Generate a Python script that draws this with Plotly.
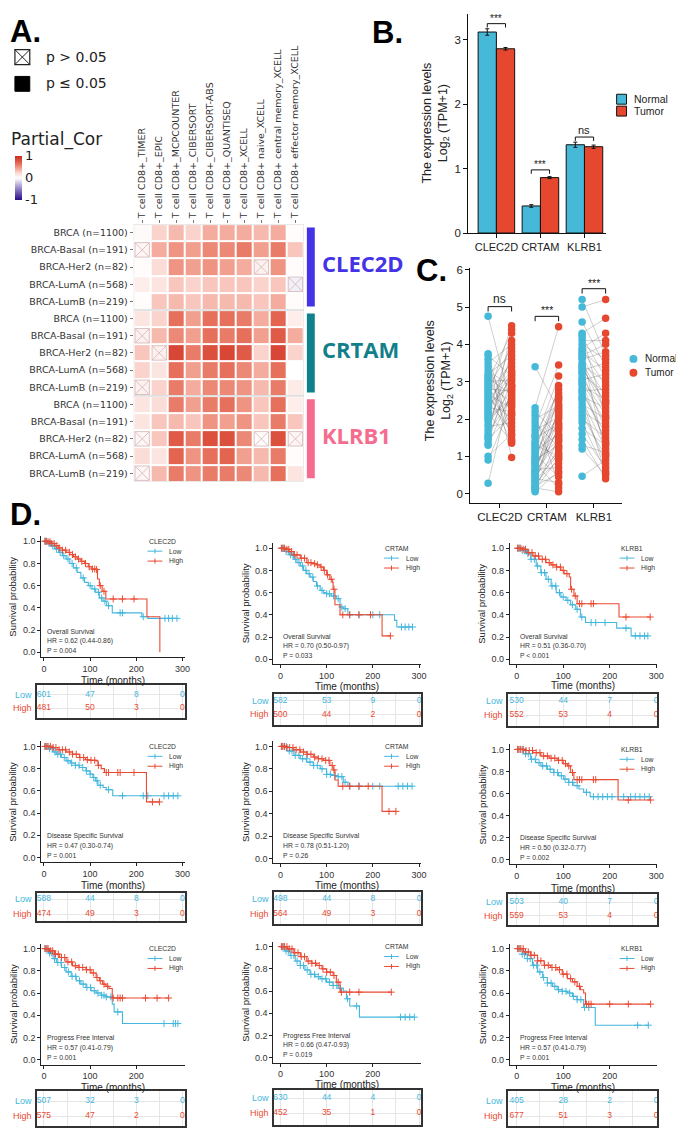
import plotly.graph_objects as go

# ===================== DATA =====================
# ---- Panel A: partial correlation heatmap ----
hm_cols = ["T cell CD8+_TIMER", "T cell CD8+_EPIC", "T cell CD8+_MCPCOUNTER",
           "T cell CD8+_CIBERSORT", "T cell CD8+_CIBERSORT-ABS", "T cell CD8+_QUANTISEQ",
           "T cell CD8+_XCELL", "T cell CD8+ naive_XCELL",
           "T cell CD8+ central memory_XCELL", "T cell CD8+ effector memory_XCELL"]
hm_rows = ["BRCA (n=1100)", "BRCA-Basal (n=191)", "BRCA-Her2 (n=82)",
           "BRCA-LumA (n=568)", "BRCA-LumB (n=219)"]
hm_genes = ["CLEC2D", "CRTAM", "KLRB1"]
hm_clec2d = [
    [0.03, 0.25, 0.35, 0.25, 0.40, 0.40, 0.40, 0.35, 0.40, 0.02],
    [0.05, 0.40, 0.50, 0.45, 0.55, 0.55, 0.60, 0.45, 0.60, 0.30],
    [0.02, 0.20, 0.50, 0.45, 0.50, 0.45, 0.40, 0.08, 0.50, 0.02],
    [0.10, 0.15, 0.30, 0.25, 0.30, 0.30, 0.30, 0.25, 0.30, -0.06],
    [0.02, 0.30, 0.35, 0.30, 0.35, 0.35, 0.35, 0.30, 0.40, 0.02]]
hm_crtam = [
    [0.15, 0.25, 0.65, 0.45, 0.65, 0.65, 0.60, 0.40, 0.70, 0.10],
    [0.08, 0.35, 0.55, 0.45, 0.65, 0.60, 0.65, 0.45, 0.75, 0.40],
    [0.30, 0.08, 0.85, 0.60, 0.80, 0.85, 0.75, 0.25, 0.85, 0.25],
    [0.25, 0.15, 0.65, 0.45, 0.60, 0.65, 0.55, 0.40, 0.65, 0.00],
    [0.08, 0.25, 0.60, 0.40, 0.55, 0.55, 0.50, 0.35, 0.60, 0.12]]
hm_klrb1 = [
    [0.15, 0.20, 0.60, 0.45, 0.60, 0.65, 0.50, 0.30, 0.65, 0.10],
    [0.15, 0.30, 0.35, 0.30, 0.50, 0.45, 0.50, 0.30, 0.60, 0.30],
    [0.05, 0.30, 0.75, 0.60, 0.80, 0.80, 0.55, 0.02, 0.80, 0.05],
    [0.20, 0.15, 0.70, 0.50, 0.65, 0.70, 0.45, 0.35, 0.60, 0.02],
    [0.05, 0.35, 0.60, 0.50, 0.60, 0.60, 0.55, 0.35, 0.65, 0.15]]
# (row, column) cells with p > 0.05
hm_ns_cells = [(1, 0), (2, 7), (3, 9), (6, 0), (7, 1), (9, 0), (12, 0), (12, 7), (12, 9), (14, 0)]

# ---- Panel B: bar chart ----
b_genes = ["CLEC2D", "CRTAM", "KLRB1"]
b_normal = [3.12, 0.42, 1.37]
b_normal_err = [0.05, 0.02, 0.04]
b_tumor = [2.86, 0.86, 1.34]
b_tumor_err = [0.02, 0.015, 0.025]
b_sig = ["***", "***", "ns"]
b_sig_y = [3.25, 0.98, 1.49]

# ---- Panel C: paired points ----
c_genes = ["CLEC2D", "CRTAM", "KLRB1"]
c_clec2d_normal = [0.28, 0.9, 1.0, 1.3, 1.35, 1.45, 1.55, 1.6, 1.7, 1.8, 1.85, 1.95, 2.0, 2.1, 2.15,
                   2.2, 2.3, 2.35, 2.4, 2.45, 2.5, 2.55, 2.6, 2.65, 2.7, 2.75, 2.8, 2.85, 2.9, 2.95,
                   3.0, 3.05, 3.1, 3.15, 3.2, 3.3, 3.4, 3.5, 3.6, 3.7, 3.75, 2.25, 2.05, 1.5, 4.75]
c_clec2d_tumor = [2.9, 2.4, 1.6, 2.7, 3.4, 2.1, 3.0, 2.6, 3.8, 1.9, 2.8, 3.2, 2.5, 4.1, 1.4,
                  3.1, 2.2, 3.6, 2.9, 1.7, 3.3, 2.0, 4.5, 2.3, 3.5, 1.35, 2.75, 3.9, 2.45, 1.55,
                  3.05, 4.3, 2.65, 1.8, 3.7, 2.85, 2.15, 4.0, 0.97, 3.15, 1.45, 3.25, 2.55, 4.4, 2.35]
c_crtam_normal = [0.05, 0.1, 0.15, 0.2, 0.25, 0.3, 0.35, 0.4, 0.45, 0.5, 0.55, 0.6, 0.65, 0.7, 0.75,
                  0.8, 0.85, 0.9, 0.95, 1.0, 1.05, 1.1, 1.15, 1.2, 1.3, 1.35, 1.4, 1.5, 1.55, 1.6,
                  1.7, 1.8, 1.9, 2.0, 2.1, 2.2, 2.3, 0.12, 0.35, 0.6, 0.85, 1.25, 0.5, 0.2, 3.4]
c_crtam_tumor = [0.6, 1.5, 0.05, 1.2, 2.3, 0.9, 1.8, 0.3, 2.0, 1.1, 2.6, 1.4, 0.7, 2.2, 1.7,
                 0.15, 2.9, 1.3, 2.5, 1.9, 0.45, 2.1, 1.6, 2.8, 1.0, 2.4, 3.15, 1.85, 0.8, 2.7,
                 2.05, 3.45, 1.25, 2.35, 0.25, 1.55, 4.47, 0.95, 1.05, 2.15, 1.45, 2.55, 1.75, 0.55, 2.25]
c_klrb1_normal = [0.47, 1.2, 1.3, 1.45, 1.6, 1.75, 1.9, 2.0, 2.1, 2.2, 2.3, 2.4, 2.5, 2.6, 2.7,
                  2.75, 2.8, 2.9, 3.0, 3.05, 3.1, 3.2, 3.25, 3.3, 3.4, 3.45, 3.5, 3.6, 3.65, 3.7,
                  3.8, 3.85, 3.9, 4.0, 4.1, 4.2, 4.3, 4.6, 5.0, 5.2, 2.55, 3.35, 3.75, 2.95, 4.25]
c_klrb1_tumor = [0.9, 0.5, 1.1, 0.4, 0.7, 1.3, 0.6, 1.5, 1.0, 1.8, 0.8, 2.0, 1.2, 2.3, 1.6,
                 2.8, 1.4, 2.5, 1.9, 3.2, 2.1, 2.7, 1.7, 3.5, 2.2, 3.0, 2.4, 3.8, 2.6, 4.0,
                 3.3, 2.9, 4.3, 3.6, 4.1, 3.1, 4.7, 3.4, 5.2, 3.7, 0.55, 2.45, 1.05, 1.35, 2.05]
c_sig = ["ns", "***", "***"]
c_sig_y = [5.01, 4.75, 5.49]

# ---- Panel D: Kaplan-Meier curves (time in months, survival) and censor times ----
risk_times = [0, 100, 200, 300]

os_clec2d_low_t = [0, 8, 16, 24, 32, 40, 48, 56, 64, 72, 80, 88, 96, 104, 112, 120, 128, 136, 148, 212, 225]
os_clec2d_low_s = [1.0, 0.98, 0.96, 0.93, 0.90, 0.87, 0.84, 0.80, 0.76, 0.72, 0.67, 0.63, 0.60, 0.57, 0.54, 0.49, 0.46, 0.42, 0.355, 0.32, 0.305]
os_clec2d_low_c = [3, 6, 11, 14, 19, 23, 27, 35, 43, 52, 61, 70, 85, 100, 110, 118, 125, 132, 140, 165, 170, 215, 262, 270, 278, 288]
os_clec2d_high_t = [0, 8, 16, 24, 32, 40, 48, 56, 64, 72, 80, 88, 96, 104, 112, 116, 120, 126, 134, 223, 251]
os_clec2d_high_s = [1.0, 0.995, 0.98, 0.96, 0.94, 0.92, 0.90, 0.88, 0.86, 0.84, 0.82, 0.80, 0.77, 0.75, 0.745, 0.66, 0.60, 0.55, 0.48, 0.32, 0.0]
os_clec2d_high_c = [2, 5, 9, 13, 17, 22, 28, 33, 40, 47, 55, 62, 68, 75, 82, 90, 98, 105, 110, 114, 122, 130, 150, 170, 195]
os_clec2d_risk_low = [601, 47, 8, 0]
os_clec2d_risk_high = [481, 50, 3, 0]

os_crtam_low_t = [0, 10, 20, 29, 36, 43, 50, 57, 64, 71, 78, 86, 93, 100, 110, 121, 129, 136, 146, 247, 252]
os_crtam_low_s = [1.0, 0.97, 0.94, 0.90, 0.87, 0.84, 0.80, 0.77, 0.74, 0.70, 0.66, 0.62, 0.60, 0.59, 0.57, 0.545, 0.47, 0.455, 0.40, 0.35, 0.29]
os_crtam_low_c = [3, 7, 12, 17, 22, 27, 33, 40, 48, 55, 62, 70, 80, 90, 100, 106, 115, 125, 133, 140, 150, 170, 200, 215, 262, 270, 278, 286]
os_crtam_high_t = [0, 10, 20, 29, 43, 57, 68, 79, 86, 93, 100, 107, 113, 114, 118, 129, 220]
os_crtam_high_s = [1.0, 0.99, 0.97, 0.94, 0.91, 0.87, 0.86, 0.85, 0.83, 0.80, 0.76, 0.72, 0.69, 0.63, 0.49, 0.40, 0.21]
os_crtam_high_c = [2, 5, 9, 14, 18, 24, 30, 36, 45, 52, 60, 66, 74, 80, 88, 95, 102, 110, 116, 135, 150, 170, 195, 238]
os_crtam_risk_low = [582, 53, 9, 0]
os_crtam_risk_high = [500, 44, 2, 0]

os_klrb1_low_t = [0, 10, 21, 30, 42, 52, 63, 74, 85, 95, 106, 116, 127, 137, 148, 215, 246]
os_klrb1_low_s = [1.0, 0.98, 0.95, 0.90, 0.84, 0.78, 0.72, 0.66, 0.60, 0.56, 0.53, 0.49, 0.45, 0.38, 0.33, 0.28, 0.21]
os_klrb1_low_c = [3, 7, 12, 17, 24, 31, 38, 45, 53, 60, 68, 76, 84, 92, 100, 110, 120, 130, 140, 160, 170, 190, 235, 255, 265, 275, 282]
os_klrb1_high_t = [0, 12, 24, 35, 48, 63, 74, 85, 95, 102, 113, 116, 123, 130, 220]
os_klrb1_high_s = [1.0, 0.99, 0.96, 0.93, 0.90, 0.87, 0.85, 0.83, 0.80, 0.77, 0.74, 0.63, 0.57, 0.50, 0.38]
os_klrb1_high_c = [2, 5, 9, 14, 19, 26, 33, 40, 47, 55, 62, 70, 78, 86, 94, 100, 108, 118, 126, 135, 140, 160, 165, 235, 287]
os_klrb1_risk_low = [530, 44, 7, 0]
os_klrb1_risk_high = [552, 53, 4, 0]

dss_clec2d_low_t = [0, 10, 20, 27, 38, 48, 58, 68, 77, 91, 100, 106, 112, 117, 128, 135, 149]
dss_clec2d_low_s = [1.0, 0.98, 0.95, 0.93, 0.90, 0.87, 0.85, 0.83, 0.81, 0.78, 0.75, 0.72, 0.69, 0.65, 0.63, 0.61, 0.555]
dss_clec2d_low_c = [3, 7, 12, 18, 24, 30, 36, 44, 52, 60, 68, 76, 84, 92, 100, 108, 115, 122, 140, 170, 215, 225, 260, 270, 280, 290]
dss_clec2d_high_t = [0, 15, 30, 48, 62, 77, 90, 99, 113, 117, 124, 131, 222]
dss_clec2d_high_s = [1.0, 0.99, 0.97, 0.95, 0.93, 0.90, 0.88, 0.875, 0.87, 0.83, 0.80, 0.765, 0.50]
dss_clec2d_high_c = [2, 5, 9, 14, 20, 26, 33, 40, 47, 55, 62, 70, 78, 86, 94, 102, 110, 118, 135, 140, 160, 165, 195, 235, 250]
dss_clec2d_risk_low = [588, 44, 8, 0]
dss_clec2d_risk_high = [474, 49, 3, 0]

dss_crtam_low_t = [0, 14, 29, 43, 57, 71, 86, 100, 110, 121, 136, 146]
dss_crtam_low_s = [1.0, 0.96, 0.92, 0.89, 0.86, 0.83, 0.80, 0.75, 0.74, 0.73, 0.68, 0.645]
dss_crtam_low_c = [3, 8, 13, 19, 25, 32, 40, 48, 56, 64, 72, 80, 90, 100, 108, 118, 125, 133, 140, 150, 170, 200, 215, 255, 265, 275, 285]
dss_crtam_high_t = [0, 14, 29, 43, 57, 71, 82, 93, 107, 114, 118, 125, 220]
dss_crtam_high_s = [1.0, 0.99, 0.97, 0.95, 0.93, 0.905, 0.89, 0.875, 0.83, 0.79, 0.70, 0.645, 0.42]
dss_crtam_high_c = [2, 5, 9, 14, 20, 27, 34, 42, 50, 58, 66, 74, 82, 90, 98, 105, 112, 116, 135, 150, 170, 190, 235, 250]
dss_crtam_risk_low = [498, 44, 8, 0]
dss_crtam_risk_high = [564, 49, 3, 0]

dss_klrb1_low_t = [0, 15, 30, 41, 52, 66, 80, 90, 101, 112, 123, 134, 144, 158]
dss_klrb1_low_s = [1.0, 0.96, 0.91, 0.88, 0.85, 0.82, 0.79, 0.76, 0.73, 0.70, 0.67, 0.64, 0.61, 0.57]
dss_klrb1_low_c = [3, 8, 13, 19, 25, 32, 40, 48, 56, 64, 72, 80, 88, 96, 104, 112, 120, 130, 150, 165, 175, 185, 195, 205, 230, 245, 255, 265, 275, 285]
dss_klrb1_high_t = [0, 20, 35, 52, 70, 87, 100, 109, 116, 123, 218]
dss_klrb1_high_s = [1.0, 0.99, 0.97, 0.94, 0.92, 0.90, 0.87, 0.85, 0.79, 0.725, 0.54]
dss_klrb1_high_c = [2, 5, 9, 14, 20, 27, 34, 42, 50, 58, 66, 74, 82, 90, 98, 105, 112, 120, 130, 135, 140, 165, 170, 240, 288]
dss_klrb1_risk_low = [503, 40, 7, 0]
dss_klrb1_risk_high = [559, 53, 4, 0]

pfi_clec2d_low_t = [0, 10, 20, 27, 38, 48, 59, 70, 80, 91, 102, 113, 124, 134, 148, 152, 170]
pfi_clec2d_low_s = [1.0, 0.96, 0.91, 0.875, 0.83, 0.79, 0.75, 0.71, 0.68, 0.65, 0.62, 0.60, 0.58, 0.565, 0.50, 0.43, 0.325]
pfi_clec2d_low_c = [3, 7, 12, 17, 23, 30, 37, 45, 53, 61, 69, 77, 85, 93, 101, 109, 117, 125, 130, 135, 145, 160, 260, 280, 285, 290]
pfi_clec2d_high_t = [0, 12, 23, 34, 48, 62, 76, 91, 102, 113, 120, 127, 134, 141, 148]
pfi_clec2d_high_s = [1.0, 0.98, 0.95, 0.92, 0.88, 0.845, 0.83, 0.81, 0.78, 0.74, 0.71, 0.68, 0.66, 0.64, 0.555]
pfi_clec2d_high_c = [2, 5, 9, 14, 19, 25, 31, 38, 45, 52, 60, 68, 76, 84, 92, 100, 107, 115, 122, 130, 138, 150, 160, 165, 170, 220, 245, 270]
pfi_clec2d_risk_low = [507, 32, 3, 0]
pfi_clec2d_risk_high = [575, 47, 2, 0]

pfi_crtam_low_t = [0, 10, 21, 32, 43, 53, 64, 75, 86, 100, 114, 125, 136, 143, 150, 171]
pfi_crtam_low_s = [1.0, 0.96, 0.92, 0.87, 0.83, 0.79, 0.75, 0.73, 0.71, 0.68, 0.65, 0.625, 0.60, 0.53, 0.465, 0.365]
pfi_crtam_low_c = [3, 7, 12, 17, 23, 29, 36, 43, 50, 58, 66, 74, 82, 90, 98, 106, 114, 122, 130, 145, 165, 260, 270, 280, 290]
pfi_crtam_high_t = [0, 15, 29, 43, 57, 68, 79, 90, 100, 114, 121, 129]
pfi_crtam_high_s = [1.0, 0.98, 0.945, 0.91, 0.87, 0.85, 0.83, 0.80, 0.77, 0.74, 0.68, 0.59]
pfi_crtam_high_c = [2, 5, 9, 14, 19, 25, 31, 38, 45, 52, 60, 68, 76, 84, 92, 100, 108, 116, 125, 132, 150, 170, 240]
pfi_crtam_risk_low = [630, 44, 4, 0]
pfi_crtam_risk_high = [452, 35, 1, 0]

pfi_klrb1_low_t = [0, 12, 23, 34, 45, 56, 66, 77, 87, 98, 109, 120, 130, 144, 169]
pfi_klrb1_low_s = [1.0, 0.95, 0.91, 0.85, 0.79, 0.74, 0.69, 0.66, 0.63, 0.615, 0.60, 0.57, 0.54, 0.47, 0.31]
pfi_klrb1_low_c = [3, 7, 12, 17, 23, 29, 36, 43, 50, 58, 66, 74, 82, 90, 98, 106, 114, 122, 130, 138, 146, 155, 260, 283]
pfi_klrb1_high_t = [0, 15, 30, 45, 59, 73, 87, 98, 109, 120, 130, 137, 144, 148]
pfi_klrb1_high_s = [1.0, 0.97, 0.94, 0.89, 0.85, 0.83, 0.81, 0.77, 0.73, 0.70, 0.66, 0.63, 0.60, 0.50]
pfi_klrb1_high_c = [2, 5, 9, 14, 19, 25, 31, 38, 45, 52, 60, 68, 76, 84, 92, 100, 108, 116, 125, 135, 150, 155, 160, 200, 240, 288]
pfi_klrb1_risk_low = [405, 28, 2, 0]
pfi_klrb1_risk_high = [677, 51, 3, 0]

km_endpoints = ["Overall Survival", "Disease Specific Survival", "Progress Free Interval"]
km_hr = [["HR = 0.62 (0.44-0.86)", "HR = 0.70 (0.50-0.97)", "HR = 0.51 (0.36-0.70)"],
         ["HR = 0.47 (0.30-0.74)", "HR = 0.78 (0.51-1.20)", "HR = 0.50 (0.32-0.77)"],
         ["HR = 0.57 (0.41-0.79)", "HR = 0.66 (0.47-0.93)", "HR = 0.57 (0.41-0.79)"]]
km_p = [["P = 0.004", "P = 0.033", "P < 0.001"],
        ["P = 0.001", "P = 0.26", "P = 0.002"],
        ["P = 0.001", "P = 0.019", "P = 0.001"]]

km_data = [
    [(os_clec2d_low_t, os_clec2d_low_s, os_clec2d_low_c, os_clec2d_high_t, os_clec2d_high_s, os_clec2d_high_c, os_clec2d_risk_low, os_clec2d_risk_high),
     (os_crtam_low_t, os_crtam_low_s, os_crtam_low_c, os_crtam_high_t, os_crtam_high_s, os_crtam_high_c, os_crtam_risk_low, os_crtam_risk_high),
     (os_klrb1_low_t, os_klrb1_low_s, os_klrb1_low_c, os_klrb1_high_t, os_klrb1_high_s, os_klrb1_high_c, os_klrb1_risk_low, os_klrb1_risk_high)],
    [(dss_clec2d_low_t, dss_clec2d_low_s, dss_clec2d_low_c, dss_clec2d_high_t, dss_clec2d_high_s, dss_clec2d_high_c, dss_clec2d_risk_low, dss_clec2d_risk_high),
     (dss_crtam_low_t, dss_crtam_low_s, dss_crtam_low_c, dss_crtam_high_t, dss_crtam_high_s, dss_crtam_high_c, dss_crtam_risk_low, dss_crtam_risk_high),
     (dss_klrb1_low_t, dss_klrb1_low_s, dss_klrb1_low_c, dss_klrb1_high_t, dss_klrb1_high_s, dss_klrb1_high_c, dss_klrb1_risk_low, dss_klrb1_risk_high)],
    [(pfi_clec2d_low_t, pfi_clec2d_low_s, pfi_clec2d_low_c, pfi_clec2d_high_t, pfi_clec2d_high_s, pfi_clec2d_high_c, pfi_clec2d_risk_low, pfi_clec2d_risk_high),
     (pfi_crtam_low_t, pfi_crtam_low_s, pfi_crtam_low_c, pfi_crtam_high_t, pfi_crtam_high_s, pfi_crtam_high_c, pfi_crtam_risk_low, pfi_crtam_risk_high),
     (pfi_klrb1_low_t, pfi_klrb1_low_s, pfi_klrb1_low_c, pfi_klrb1_high_t, pfi_klrb1_high_s, pfi_klrb1_high_c, pfi_klrb1_risk_low, pfi_klrb1_risk_high)],
]

# ===================== STYLE / LAYOUT =====================
# The page body has an 8px default margin: the figure is drawn 8px in from the top-left,
# so positions below are given in window pixels and shifted by OFF.
OFF = 8
W, H = 684 - OFF, 1134 - OFF
SANS = "Liberation Sans, Arial, sans-serif"
DV = "DejaVu Sans, sans-serif"
BOLD = "Open Sans, Liberation Sans, sans-serif"
LBL = "Liberation Sans, Arial, sans-serif"
C_NORMAL = "#45B9D7"
C_TUMOR = "#E5472F"
C_LOW = "#45B7DD"
C_HIGH = "#EA4A33"
GENE_COL = ["#4433E6", "#12808A", "#F56C8E"]


def px_x(p):
    return (p - OFF) / W


def px_y(p):
    return 1 - (p - OFF) / H


fig = go.Figure()
lay = {}
ann = []
shp = []


def text(x, y, s, size, color="#222", family=SANS, xanchor="left", yanchor="middle", angle=0):
    ann.append(dict(x=px_x(x), y=px_y(y), xref="paper", yref="paper", text=s, showarrow=False,
                    xanchor=xanchor, yanchor=yanchor, textangle=angle,
                    font=dict(size=size, color=color, family=family)))


def line_px(x0, y0, x1, y1, color, width=1):
    shp.append(dict(type="line", xref="paper", yref="paper", x0=px_x(x0), y0=px_y(y0),
                    x1=px_x(x1), y1=px_y(y1), line=dict(color=color, width=width)))


# ---------------- Panel A ----------------
hm_z = hm_clec2d + hm_crtam + hm_klrb1
fig.add_trace(go.Heatmap(
    z=hm_z, x=list(range(len(hm_cols))), y=list(range(len(hm_z))),
    zmin=-1, zmax=1, xgap=2, ygap=2, hoverinfo="skip",
    colorscale=[[0, "#2B0A87"], [0.25, "#8E80C4"], [0.5, "#FFFFFF"], [0.62, "#FAD6CF"],
                [0.72, "#F2A293"], [0.85, "#E3644F"], [1, "#CC2A1C"]],
    colorbar=dict(thickness=7, thicknessmode="pixels", len=44, lenmode="pixels",
                  x=px_x(15), xanchor="left", y=px_y(175), yanchor="middle", xpad=0, ypad=0,
                  tickvals=[-1, 0, 1], ticktext=["-1", "0", "1"], ticks="",
                  outlinewidth=0, tickfont=dict(size=13, family=DV, color="#222")),
    xaxis="x", yaxis="y"))
cx, cy = [], []
d = 0.42
for r, c in hm_ns_cells:
    cx += [c - d, c + d, None, c - d, c + d, None, c - d, c + d, c + d, c - d, c - d, None]
    cy += [r - d, r + d, None, r + d, r - d, None, r - d, r - d, r + d, r + d, r - d, None]
fig.add_trace(go.Scatter(x=cx, y=cy, mode="lines", line=dict(color="rgba(215,185,185,0.85)", width=1),
                         hoverinfo="skip", xaxis="x", yaxis="y"))
lay["xaxis"] = dict(domain=[px_x(135), px_x(307)], range=[-0.5, 9.5], side="top", anchor="y",
                    tickvals=list(range(10)), ticktext=hm_cols, tickangle=-90,
                    tickfont=dict(size=9.5, family=DV, color="#333"), ticks="outside", ticklen=3,
                    tickcolor="#777", showgrid=False, zeroline=False, showline=False)
lay["yaxis"] = dict(domain=[px_y(482), px_y(222)], range=[14.5, -0.5], anchor="x",
                    tickvals=list(range(15)), ticktext=hm_rows * 3,
                    tickfont=dict(size=9.5, family=DV, color="#333"), ticks="outside", ticklen=3,
                    tickcolor="#777", showgrid=False, zeroline=False, showline=False)
for g in range(3):
    shp.append(dict(type="rect", xref="x", yref="y", x0=-0.5, x1=9.5, y0=g * 5 - 0.5, y1=g * 5 + 4.5,
                    line=dict(color="#DADADA", width=1)))
    shp.append(dict(type="rect", xref="paper", yref="y", x0=px_x(310), x1=px_x(318),
                    y0=g * 5 - 0.3, y1=g * 5 + 4.3, fillcolor=GENE_COL[g], line=dict(width=0)))
    ann.append(dict(x=px_x(323), y=g * 5 + 2, xref="paper", yref="y", text="<b>%s</b>" % hm_genes[g],
                    showarrow=False, xanchor="left", yanchor="middle", yshift=4,
                    font=dict(size=22, color=GENE_COL[g], family=BOLD)))

text(8, 8.5, "<b>A.</b>", 31, "#000", LBL, "left", "top")
shp.append(dict(type="rect", xref="paper", yref="paper", x0=px_x(15), x1=px_x(30), y0=px_y(61), y1=px_y(46),
                line=dict(color="#222", width=1.2)))
line_px(15, 46, 30, 61, "#222", 1)
line_px(15, 61, 30, 46, "#222", 1)
shp.append(dict(type="rect", xref="paper", yref="paper", x0=px_x(15), x1=px_x(30), y0=px_y(88), y1=px_y(73),
                fillcolor="#000", line=dict(color="#000", width=1)))
text(44, 53, "p > 0.05", 14, "#222", DV)
text(44, 80, "p \u2264 0.05", 14, "#222", DV)
text(9, 137, "Partial_Cor", 17, "#222", DV)

# ---------------- Panel B ----------------
fig.add_trace(go.Bar(x=[0, 1, 2], y=b_normal, width=0.415, offset=-0.415,
                     marker=dict(color=C_NORMAL, line=dict(color="#111", width=1)),
                     error_y=dict(type="data", array=b_normal_err, color="#111", thickness=1, width=2),
                     xaxis="x2", yaxis="y2", hoverinfo="skip", showlegend=False))
fig.add_trace(go.Bar(x=[0, 1, 2], y=b_tumor, width=0.415, offset=0,
                     marker=dict(color=C_TUMOR, line=dict(color="#111", width=1)),
                     error_y=dict(type="data", array=b_tumor_err, color="#111", thickness=1, width=2),
                     xaxis="x2", yaxis="y2", hoverinfo="skip", showlegend=False))
bx, by = [], []
for i, yv in enumerate(b_sig_y):
    bx += [i - 0.2075, i - 0.2075, i + 0.2075, i + 0.2075, None]
    by += [yv - 0.06, yv, yv, yv - 0.06, None]
    ann.append(dict(x=i, y=yv, xref="x2", yref="y2", text=b_sig[i], showarrow=False,
                    yanchor="bottom", yshift=-2 if b_sig[i] == "***" else -1,
                    font=dict(size=10 if b_sig[i] == "***" else 11, family=SANS, color="#222")))
fig.add_trace(go.Scatter(x=bx, y=by, mode="lines", line=dict(color="#111", width=1),
                         xaxis="x2", yaxis="y2", hoverinfo="skip", showlegend=False))
lay["xaxis2"] = dict(domain=[px_x(473), px_x(612)], range=[(473 - 501.5) / 44.5, (612 - 501.5) / 44.5],
                     anchor="y2", tickvals=[0, 1, 2], ticktext=b_genes, tickangle=0, showline=True,
                     linecolor="#111", ticks="outside", ticklen=4, tickcolor="#111", showgrid=False,
                     zeroline=False, tickfont=dict(size=11, family=SANS, color="#222"))
lay["yaxis2"] = dict(domain=[px_y(231), px_y(10)], range=[0, 3.4], anchor="x2", tickvals=[0, 1, 2, 3],
                     showline=True, linecolor="#111", ticks="outside", ticklen=4, tickcolor="#111",
                     showgrid=False, zeroline=False, tickfont=dict(size=11.5, family=SANS, color="#222"))
text(440, 120, "The expression levels<br>Log<sub>2</sub> (TPM+1)", 12.5, "#222", SANS, "center", "middle", -90)
text(374, 9, "<b>B.</b>", 31, "#000", LBL, "left", "top")
for j, (lab, col, yy) in enumerate([("Normal", C_NORMAL, 96), ("Tumor", C_TUMOR, 108)]):
    shp.append(dict(type="rect", xref="paper", yref="paper", x0=px_x(623), x1=px_x(633),
                    y0=px_y(yy + 5), y1=px_y(yy - 5), fillcolor=col, line=dict(color="#111", width=1)))
    text(639, yy, lab, 10.5, "#222", SANS)

# ---------------- Panel C ----------------
c_sets = [(c_clec2d_normal, c_clec2d_tumor), (c_crtam_normal, c_crtam_tumor), (c_klrb1_normal, c_klrb1_tumor)]
lx, ly = [], []
for gi, (nv, tv) in enumerate(c_sets):
    for a, b in zip(nv, tv):
        lx += [gi - 0.25, gi + 0.25, None]
        ly += [a, b, None]
fig.add_trace(go.Scatter(x=lx, y=ly, mode="lines", line=dict(color="rgba(80,80,80,0.35)", width=0.8),
                         xaxis="x3", yaxis="y3", hoverinfo="skip", showlegend=False))
for gi, (nv, tv) in enumerate(c_sets):
    fig.add_trace(go.Scatter(x=[gi - 0.25] * len(nv), y=nv, mode="markers",
                             marker=dict(color=C_NORMAL, size=7.5), xaxis="x3", yaxis="y3",
                             hoverinfo="skip", showlegend=False))
    fig.add_trace(go.Scatter(x=[gi + 0.25] * len(tv), y=tv, mode="markers",
                             marker=dict(color=C_TUMOR, size=7.5), xaxis="x3", yaxis="y3",
                             hoverinfo="skip", showlegend=False))
cbx, cby = [], []
for i, yv in enumerate(c_sig_y):
    cbx += [i - 0.25, i - 0.25, i + 0.25, i + 0.25, None]
    cby += [yv - 0.13, yv, yv, yv - 0.13, None]
    ann.append(dict(x=i, y=yv, xref="x3", yref="y3", text=c_sig[i], showarrow=False,
                    yanchor="bottom", yshift=-2 if c_sig[i] == "***" else -1,
                    font=dict(size=10.5 if c_sig[i] == "***" else 12, family=SANS, color="#222")))
fig.add_trace(go.Scatter(x=cbx, y=cby, mode="lines", line=dict(color="#111", width=1),
                         xaxis="x3", yaxis="y3", hoverinfo="skip", showlegend=False))
lay["xaxis3"] = dict(domain=[px_x(475), px_x(628)], range=[(475 - 505) / 47.5, (628 - 505) / 47.5],
                     anchor="y3", tickvals=[0, 1, 2], ticktext=c_genes, tickangle=0, showline=True,
                     linecolor="#111", ticks="outside", ticklen=4, tickcolor="#111", showgrid=False,
                     zeroline=False, tickfont=dict(size=11.5, family=SANS, color="#222"))
lay["yaxis3"] = dict(domain=[px_y(503), px_y(266)], range=[(494 - 503) / 37.67, (494 - 266) / 37.67],
                     anchor="x3", tickvals=[0, 1, 2, 3, 4, 5, 6], showline=True, linecolor="#111",
                     ticks="outside", ticklen=4, tickcolor="#111", showgrid=False, zeroline=False,
                     tickfont=dict(size=11.5, family=SANS, color="#222"))
text(443, 380, "The expression levels<br>Log<sub>2</sub> (TPM+1)", 12.5, "#222", SANS, "center", "middle", -90)
text(418, 269, "<b>C.</b>", 31, "#000", LBL)
for lab, col, yy in [("Normal", C_NORMAL, 358), ("Tumor", C_TUMOR, 372)]:
    shp.append(dict(type="circle", xref="paper", yref="paper", x0=px_x(636), x1=px_x(644),
                    y0=px_y(yy + 4), y1=px_y(yy - 4), fillcolor=col, line=dict(width=0)))
    text(650, yy, lab, 10, "#222", SANS)

# ---------------- Panel D ----------------
text(8, 515, "<b>D.</b>", 31, "#000", LBL)
col_xl = [41.7, 276, 515]
col_xr = [187, 425, 664]
col_x0 = [44.3, 283.3, 522]
col_k = [0.4667, 0.4667, 0.47]
tab_xl = [37, 277, 513]
ylab_x = [13, 248, 487]
leg_x = [148, 387, 625]
row_y1 = [[542, 549, 549], [749, 749, 752], [953, 951, 953]]
row_y0 = [[654, 661, 661], [861, 862, 863], [1065, 1063, 1065]]
leg_y = [[542, 549, 549], [749, 749, 752], [953, 951, 953]]
stat_y = [[632.7, 637.7, 637.7], [839.3, 839.3, 841.7], [1043.3, 1040.7, 1043.3]]
time_y = [[682, 689, 688], [889, 889, 892], [1093, 1090, 1093]]
tab_geo = [[(687, 720, 696.7, 710.5), (696, 727, 702.7, 716.7), (696, 728, 703, 717.5)],
           [(897, 925, 903.3, 918.3), (896, 928, 903.3, 918.3), (898, 929, 906, 920)],
           [(1097, 1132, 1107, 1122), (1096, 1131, 1104, 1119), (1097, 1132, 1107, 1122)]]


def km_line(t, s, c):
    xs, ys = list(t), list(s)
    if c and max(c) > xs[-1]:
        xs.append(max(c))
        ys.append(ys[-1])
    return xs, ys


def km_at(t, s, tc):
    v = s[0]
    for ti, si in zip(t, s):
        if ti <= tc:
            v = si
    return v


axis_font = dict(size=9, family=SANS, color="#333")
n = 4
for r in range(3):
    for cc in range(3):
        lt, ls, lc, ht, hs, hc, rl, rh = km_data[r][cc]
        xa, ya = "x%d" % n, "y%d" % n
        for t, s, c, col in [(lt, ls, lc, C_LOW), (ht, hs, hc, C_HIGH)]:
            xs, ys = km_line(t, s, c)
            fig.add_trace(go.Scatter(x=xs, y=ys, mode="lines", line=dict(color=col, width=1.1, shape="hv"),
                                     xaxis=xa, yaxis=ya, hoverinfo="skip", showlegend=False))
            fig.add_trace(go.Scatter(x=c, y=[km_at(t, s, tc) for tc in c], mode="markers",
                                     marker=dict(symbol="cross-thin", size=5, line=dict(color=col, width=1)),
                                     xaxis=xa, yaxis=ya, hoverinfo="skip", showlegend=False))
        y1, y0 = row_y1[r][cc], row_y0[r][cc]
        span = y0 - y1
        xl, xr, x0, k = col_xl[cc], col_xr[cc], col_x0[cc], col_k[cc]
        lay["xaxis%d" % n] = dict(domain=[px_x(xl), px_x(xr)], range=[(xl - x0) / k, (xr - x0) / k],
                                  anchor=ya, tickvals=[0, 100, 200] if r == 2 else [0, 100, 200, 300],
                                  showline=True, linecolor="#222", ticks="outside", ticklen=3,
                                  tickcolor="#222", showgrid=False, zeroline=False, tickfont=axis_font)
        lay["yaxis%d" % n] = dict(domain=[px_y(y0 + 0.045 * span), px_y(y1 - 0.045 * span)],
                                  range=[-0.045, 1.045], anchor=xa,
                                  tickvals=[0, 0.2, 0.4, 0.6, 0.8, 1.0],
                                  ticktext=["0.0", "0.2", "0.4", "0.6", "0.8", "1.0"],
                                  showline=True, linecolor="#222", ticks="outside", ticklen=3,
                                  tickcolor="#222", showgrid=False, zeroline=False, tickfont=axis_font)
        text(ylab_x[cc], (y0 + y1) / 2, "Survival probability", 9.5, "#222", SANS, "center", "middle", -90)
        text((xl + xr) / 2, time_y[r][cc], "Time (months)", 10, "#222", SANS, "center", "middle")
        # legend
        lxp, lyp = leg_x[cc], leg_y[r][cc]
        text(lxp, lyp, hm_genes[cc], 6.8, "#333", SANS)
        for lab, col, dy in [("Low", C_LOW, 10), ("High", C_HIGH, 20)]:
            line_px(lxp + 1, lyp + dy, lxp + 16, lyp + dy, col, 1)
            line_px(lxp + 8.5, lyp + dy - 2.5, lxp + 8.5, lyp + dy + 2.5, col, 1)
            text(lxp + 21, lyp + dy, lab, 6.8, "#333", SANS)
        # stats
        sy = stat_y[r][cc]
        for j, s in enumerate([km_endpoints[r], km_hr[r][cc], km_p[r][cc]]):
            text(x0 + 1, sy + j * 9.8, s, 6.8, "#333", SANS)
        # risk table
        m = n + 9
        txa, tya = "x%d" % m, "y%d" % m
        top, bot, yl, yh = tab_geo[r][cc]
        u = yh - yl
        fig.add_trace(go.Scatter(x=risk_times, y=[1] * 4, mode="text", text=[str(v) for v in rl],
                                 textfont=dict(size=8.5, color=C_LOW, family=SANS), cliponaxis=False,
                                 xaxis=txa, yaxis=tya, hoverinfo="skip", showlegend=False))
        fig.add_trace(go.Scatter(x=risk_times, y=[0] * 4, mode="text", text=[str(v) for v in rh],
                                 textfont=dict(size=8.5, color=C_HIGH, family=SANS), cliponaxis=False,
                                 xaxis=txa, yaxis=tya, hoverinfo="skip", showlegend=False))
        txl = tab_xl[cc]
        lay["xaxis%d" % m] = dict(domain=[px_x(txl), px_x(xr)], range=[(txl - x0) / k, (xr - x0) / k],
                                  anchor=tya, showticklabels=False, ticks="", showgrid=True,
                                  gridcolor="#E6E6E6", gridwidth=1, tick0=0, dtick=50, zeroline=False,
                                  showline=True, mirror=True, linecolor="#333", linewidth=1.5)
        lay["yaxis%d" % m] = dict(domain=[px_y(bot), px_y(top)],
                                  range=[-(bot - yh) / u, 1 + (yl - top) / u], anchor=txa,
                                  tickvals=[0, 1], showticklabels=False, ticks="", showgrid=True,
                                  gridcolor="#E6E6E6", zeroline=False,
                                  showline=True, mirror=True, linecolor="#333", linewidth=1.5)
        text(txl - 3, yl, "Low", 9, C_LOW, SANS, "right")
        text(txl - 3, yh, "High", 9, C_HIGH, SANS, "right")
        n += 1

fig.update_layout(width=W, height=H, margin=dict(l=0, r=0, t=0, b=0), paper_bgcolor="white",
                  plot_bgcolor="white", showlegend=False, annotations=ann, shapes=shp, **lay)
fig.write_html("out.html")
